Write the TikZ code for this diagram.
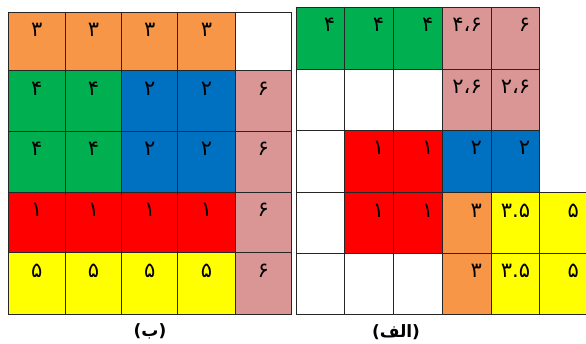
\documentclass[tikz,border=0pt]{standalone}
\usepackage{fontspec}
\TeXXeTstate=1
\newfontfamily\arabicfont[Script=Arabic]{DejaVu Sans}
\definecolor{cOr}{HTML}{F79646}
\definecolor{cGr}{HTML}{00B050}
\definecolor{cBl}{HTML}{0070C0}
\definecolor{cRd}{HTML}{FF0000}
\definecolor{cYe}{HTML}{FFFF00}
\definecolor{cPk}{HTML}{D99694}
\definecolor{cWh}{HTML}{FFFFFF}
\tikzset{
  gridcell/.style={draw=black!85, line width=0.8pt, inner sep=0pt, outer sep=0pt, anchor=north west},
  numtxt/.style={inner sep=0pt, font=\arabicfont\fontsize{21}{24}\selectfont},
  captxt/.style={inner sep=0pt, font=\arabicfont\bfseries\fontsize{17}{19}\selectfont}
}
% left grid: name, col, row, colour, text
\newcommand\Lcell[5]{%
  \pgfmathsetmacro\xa{{8,65.3,121.7,177.7,235.3,291.3}[#2-1]}%
  \pgfmathsetmacro\xb{{8,65.3,121.7,177.7,235.3,291.3}[#2]}%
  \pgfmathsetmacro\ya{{12,70.7,131,192.3,252.7,314.5}[#3-1]}%
  \pgfmathsetmacro\yb{{12,70.7,131,192.3,252.7,314.5}[#3]}%
  \node[gridcell, fill=#4, minimum width={(\xb-\xa)*1pt}, minimum height={(\yb-\ya)*1pt}] (#1) at (\xa,\ya) {};
  \node[numtxt, anchor=north] (#1t) at ([yshift=-11pt]#1.north) {#5};
}
\newcommand\Rcell[5]{%
  \pgfmathsetmacro\xa{{296,344.3,393.3,442.7,491,539.3,588}[#2-1]}%
  \pgfmathsetmacro\xb{{296,344.3,393.3,442.7,491,539.3,588}[#2]}%
  \pgfmathsetmacro\ya{{7,69.3,130,192.7,253.3,314.5}[#3-1]}%
  \pgfmathsetmacro\yb{{7,69.3,130,192.7,253.3,314.5}[#3]}%
  \node[gridcell, fill=#4, minimum width={(\xb-\xa)*1pt}, minimum height={(\yb-\ya)*1pt}] (#1) at (\xa,\ya) {};
  \node[numtxt, anchor=north east] (#1t) at ([xshift=-9pt,yshift=-11pt]#1.north east) {#5};
}
\begin{document}
\begin{tikzpicture}[x=1pt,y=-1pt]
\useasboundingbox (0,0) rectangle (586,343);
\clip (0,0) rectangle (586,343);
% ---- left grid (ب)
\Lcell{La1}{1}{1}{cOr}{۳}
\Lcell{La2}{2}{1}{cOr}{۳}
\Lcell{La3}{3}{1}{cOr}{۳}
\Lcell{La4}{4}{1}{cOr}{۳}
\Lcell{La5}{5}{1}{cWh}{}
\Lcell{Lb1}{1}{2}{cGr}{۴}
\Lcell{Lb2}{2}{2}{cGr}{۴}
\Lcell{Lb3}{3}{2}{cBl}{۲}
\Lcell{Lb4}{4}{2}{cBl}{۲}
\Lcell{Lb5}{5}{2}{cPk}{۶}
\Lcell{Lc1}{1}{3}{cGr}{۴}
\Lcell{Lc2}{2}{3}{cGr}{۴}
\Lcell{Lc3}{3}{3}{cBl}{۲}
\Lcell{Lc4}{4}{3}{cBl}{۲}
\Lcell{Lc5}{5}{3}{cPk}{۶}
\Lcell{Ld1}{1}{4}{cRd}{۱}
\Lcell{Ld2}{2}{4}{cRd}{۱}
\Lcell{Ld3}{3}{4}{cRd}{۱}
\Lcell{Ld4}{4}{4}{cRd}{۱}
\Lcell{Ld5}{5}{4}{cPk}{۶}
\Lcell{Le1}{1}{5}{cYe}{۵}
\Lcell{Le2}{2}{5}{cYe}{۵}
\Lcell{Le3}{3}{5}{cYe}{۵}
\Lcell{Le4}{4}{5}{cYe}{۵}
\Lcell{Le5}{5}{5}{cPk}{۶}
% ---- right grid (الف)
\Rcell{Ra1}{1}{1}{cGr}{۴}
\Rcell{Ra2}{2}{1}{cGr}{۴}
\Rcell{Ra3}{3}{1}{cGr}{۴}
\Rcell{Ra4}{4}{1}{cPk}{۴،۶}
\Rcell{Ra5}{5}{1}{cPk}{۶}
\Rcell{Rb1}{1}{2}{cWh}{}
\Rcell{Rb2}{2}{2}{cWh}{}
\Rcell{Rb3}{3}{2}{cWh}{}
\Rcell{Rb4}{4}{2}{cPk}{۲،۶}
\Rcell{Rb5}{5}{2}{cPk}{۲،۶}
\Rcell{Rc1}{1}{3}{cWh}{}
\Rcell{Rc2}{2}{3}{cRd}{۱}
\Rcell{Rc3}{3}{3}{cRd}{۱}
\Rcell{Rc4}{4}{3}{cBl}{۲}
\Rcell{Rc5}{5}{3}{cBl}{۲}
\Rcell{Rd1}{1}{4}{cWh}{}
\Rcell{Rd2}{2}{4}{cRd}{۱}
\Rcell{Rd3}{3}{4}{cRd}{۱}
\Rcell{Rd4}{4}{4}{cOr}{۳}
\Rcell{Rd5}{5}{4}{cYe}{۳.۵}
\Rcell{Rd6}{6}{4}{cYe}{۵}
\Rcell{Re1}{1}{5}{cWh}{}
\Rcell{Re2}{2}{5}{cWh}{}
\Rcell{Re3}{3}{5}{cWh}{}
\Rcell{Re4}{4}{5}{cOr}{۳}
\Rcell{Re5}{5}{5}{cYe}{۳.۵}
\Rcell{Re6}{6}{5}{cYe}{۵}
% ---- captions
\node[captxt] (capB) at (150,331) {(ب)};
\node[captxt] (capA) at (396,332) {(الف)};
\end{tikzpicture}
\end{document}
